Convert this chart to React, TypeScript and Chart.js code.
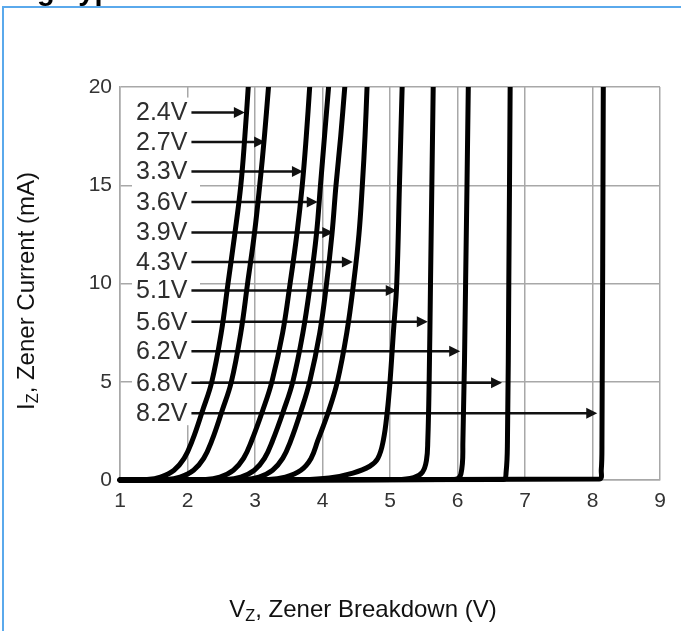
import React, { useEffect, useRef } from "react";
import { Chart, registerables } from "chart.js";

Chart.register(...registerables);

const FONT = "'Liberation Sans', Arial, Helvetica, sans-serif";
const GRID = "#a8a8a8";

// axis ticks
const xTicks = [1, 2, 3, 4, 5, 6, 7, 8, 9];
const yTicks = [0, 5, 10, 15, 20];

// current levels (mA) shared by the soft-knee curves
const softCurrents = [0, 0.03, 0.15, 0.5, 1.1, 2, 3.5, 5, 7.5, 10, 12.5, 15, 17.5, 20];
// voltages (V) for each soft curve
const v2_4 = [1, 1.40, 1.60, 1.80, 1.95, 2.07, 2.22, 2.36, 2.50, 2.60, 2.70, 2.79, 2.85, 2.90];
const v2_7 = [1, 1.69, 1.89, 2.09, 2.24, 2.36, 2.51, 2.65, 2.79, 2.89, 2.99, 3.07, 3.14, 3.20];
const v3_3 = [1, 2.27, 2.48, 2.68, 2.83, 2.95, 3.11, 3.25, 3.41, 3.52, 3.62, 3.70, 3.76, 3.81];
const v3_6 = [1, 2.58, 2.79, 2.99, 3.14, 3.26, 3.42, 3.56, 3.71, 3.82, 3.91, 3.97, 4.03, 4.09];
const v3_9 = [1, 2.85, 3.06, 3.26, 3.41, 3.53, 3.68, 3.81, 3.96, 4.06, 4.14, 4.20, 4.27, 4.33];
const v4_3 = [1, 3.20, 3.45, 3.68, 3.83, 3.93, 4.09, 4.22, 4.36, 4.46, 4.54, 4.59, 4.63, 4.66];

// sharper curves
const v5_1 = [1, 3.70, 4.10, 4.45, 4.70, 4.82, 4.90, 4.96, 5.00, 5.05, 5.10, 5.14, 5.18];
const i5_1 = [0, 0.02, 0.1, 0.35, 0.7, 1.1, 2, 3.5, 5, 7.5, 10, 15, 20];
const v5_6 = [1, 5.10, 5.35, 5.48, 5.54, 5.56, 5.58, 5.60, 5.64];
const i5_6 = [0, 0.02, 0.12, 0.4, 1, 2, 5, 10, 20];
const v6_2 = [1, 5.95, 6.05, 6.08, 6.12, 6.16];
const i6_2 = [0, 0.02, 0.3, 2, 10, 20];
const v6_8 = [1, 6.68, 6.72, 6.74, 6.76, 6.78];
const i6_8 = [0, 0.03, 0.4, 2, 10, 20];
const v8_2 = [1, 8.10, 8.13, 8.14, 8.16];
const i8_2 = [0, 0.05, 0.5, 2, 20];

// labels and arrows
const curveNames = ["2.4V", "2.7V", "3.3V", "3.6V", "3.9V", "4.3V", "5.1V", "5.6V", "6.2V", "6.8V", "8.2V"];
const arrowCurrents = [18.7, 17.2, 15.7, 14.15, 12.6, 11.1, 9.65, 8.05, 6.55, 4.95, 3.4];
const arrowTipsV = [2.85, 3.15, 3.71, 3.93, 4.16, 4.45, 5.10, 5.56, 6.04, 6.66, 8.07];

const xTitleMain = "V";
const yTitleMain = "I";
const titleSub = "Z";
const xTitleRest = ", Zener Breakdown (V)";
const yTitleRest = ", Zener Current (mA)";
const headerText = "g Typ";

const curveVoltages = [v2_4, v2_7, v3_3, v3_6, v3_9, v4_3, v5_1, v5_6, v6_2, v6_8, v8_2];
const curveCurrents = [softCurrents, softCurrents, softCurrents, softCurrents, softCurrents, softCurrents, i5_1, i5_6, i6_2, i6_8, i8_2];

function drawSubText(ctx: CanvasRenderingContext2D, parts: [string, boolean][], cx: number, baseY: number, size: number) {
  const subSize = size * 0.68;
  let total = 0;
  const widths = parts.map(([t, sub]) => {
    ctx.font = `${sub ? subSize : size}px ${FONT}`;
    const w = ctx.measureText(t).width;
    total += w;
    return w;
  });
  let x = cx - total / 2;
  ctx.textAlign = "left";
  ctx.textBaseline = "alphabetic";
  parts.forEach(([t, sub], k) => {
    ctx.font = `${sub ? subSize : size}px ${FONT}`;
    ctx.fillText(t, x, baseY + (sub ? size * 0.16 : 0));
    x += widths[k];
  });
}

const labelPlugin = {
  id: "zenerLabels",
  beforeDatasetsDraw(chart: any) {
    const { ctx, chartArea, scales } = chart;
    const xs = scales.x;
    const ys = scales.y;
    ctx.save();
    const firstY = ys.getPixelForValue(arrowCurrents[0]);
    const lastY = ys.getPixelForValue(arrowCurrents[arrowCurrents.length - 1]);
    ctx.fillStyle = "#ffffff";
    ctx.fillRect(chartArea.left + 12, firstY - 15, 68, lastY - firstY + 27);
    ctx.font = `25px ${FONT}`;
    ctx.textAlign = "left";
    ctx.textBaseline = "middle";
    const textX = chartArea.left + 16;
    curveNames.forEach((name, k) => {
      const py = ys.getPixelForValue(arrowCurrents[k]);
      ctx.fillStyle = "#2e2e2e";
      ctx.fillText(name, textX, py + 1);
      const w = ctx.measureText(name).width;
      const x0 = textX + w + 4;
      const tip = xs.getPixelForValue(arrowTipsV[k]);
      ctx.strokeStyle = "#111";
      ctx.lineWidth = 2.5;
      ctx.beginPath();
      ctx.moveTo(x0, py);
      ctx.lineTo(tip - 9, py);
      ctx.stroke();
      ctx.fillStyle = "#111";
      ctx.beginPath();
      ctx.moveTo(tip, py);
      ctx.lineTo(tip - 11, py - 5.5);
      ctx.lineTo(tip - 11, py + 5.5);
      ctx.closePath();
      ctx.fill();
    });
    ctx.restore();
  },
  afterDraw(chart: any) {
    const { ctx } = chart;
    ctx.save();
    ctx.fillStyle = "#111";
    drawSubText(ctx, [[xTitleMain, false], [titleSub, true], [xTitleRest, false]], 363, 617, 24);
    ctx.translate(26, 291);
    ctx.rotate(-Math.PI / 2);
    drawSubText(ctx, [[yTitleMain, false], [titleSub, true], [yTitleRest, false]], 0, 8, 24);
    ctx.restore();

    ctx.save();
    ctx.strokeStyle = "#5aa9ec";
    ctx.lineWidth = 2;
    ctx.beginPath();
    ctx.moveTo(3, 640);
    ctx.lineTo(3, 7);
    ctx.lineTo(690, 7);
    ctx.stroke();
    ctx.fillStyle = "#000";
    ctx.font = `bold 29px ${FONT}`;
    ctx.textAlign = "left";
    ctx.textBaseline = "alphabetic";
    ctx.fillText(headerText, 37, 0);
    ctx.restore();
  },
};

export default function App() {
  const ref = useRef<HTMLCanvasElement | null>(null);
  useEffect(() => {
    if (!ref.current) return;
    const datasets = curveNames.map((name, k) => ({
      label: name,
      data: curveVoltages[k].map((v, j) => ({ x: v, y: curveCurrents[k][j] })),
      showLine: true,
      borderColor: "#000",
      backgroundColor: "#000",
      borderWidth: 5,
      pointRadius: 0,
      tension: 0.4,
      borderCapStyle: "round" as const,
      borderJoinStyle: "round" as const,
      clip: { left: 3, top: 0, right: 0, bottom: 4 },
    }));
    const chart = new Chart(ref.current, {
      type: "scatter",
      data: { datasets },
      options: {
        animation: false,
        responsive: false,
        devicePixelRatio: 1,
        layout: { padding: { left: 0, right: 21, top: 87, bottom: 111 } },
        plugins: {
          legend: { display: false },
          tooltip: { enabled: false },
          title: { display: false },
        },
        scales: {
          x: {
            type: "linear",
            min: 1,
            max: 9,
            afterFit: (s: any) => { s.height = 40; },
            afterBuildTicks: (s: any) => { s.ticks = xTicks.map((v) => ({ value: v })); },
            ticks: { font: { family: FONT, size: 21 }, color: "#333", padding: 9 },
            grid: { color: GRID, lineWidth: 1.5, drawTicks: false },
            border: { color: GRID, width: 1.5 },
          },
          y: {
            type: "linear",
            min: 0,
            max: 20,
            afterFit: (s: any) => { s.width = 120; },
            afterBuildTicks: (s: any) => { s.ticks = yTicks.map((v) => ({ value: v })); },
            ticks: { font: { family: FONT, size: 21 }, color: "#333", padding: 8 },
            grid: { color: GRID, lineWidth: 1.5, drawTicks: false },
            border: { color: GRID, width: 1.5 },
          },
        },
      },
      plugins: [labelPlugin],
    });
    return () => chart.destroy();
  }, []);
  return (
    <div style={{ position: "absolute", left: 0, top: 0, width: 681, height: 631, background: "#fff" }}>
      <canvas ref={ref} width={681} height={631} style={{ display: "block", width: 681, height: 631 }} />
    </div>
  );
}
